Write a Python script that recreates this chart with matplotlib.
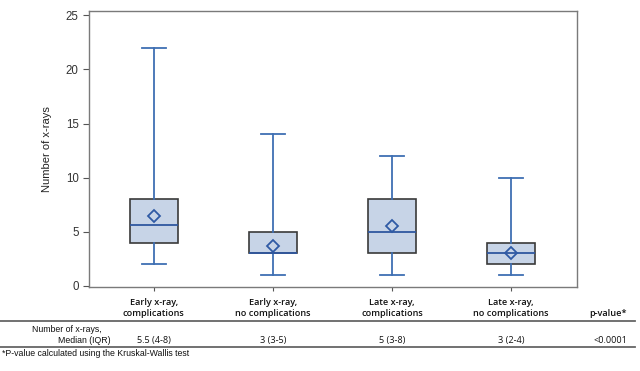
import matplotlib
matplotlib.use("Agg")
import matplotlib.pyplot as plt
import matplotlib.transforms as mtransforms
from matplotlib.lines import Line2D

categories = ["Early x-ray,\ncomplications", "Early x-ray,\nno complications",
              "Late x-ray,\ncomplications", "Late x-ray,\nno complications"]
whislo = [2, 1, 1, 1]
q1 = [4, 3, 3, 2]
med = [5.6, 3, 5, 3]
q3 = [8, 5, 8, 4]
whishi = [22, 14, 12, 10]
means = [6.5, 3.7, 5.5, 3.0]
table_values = ["5.5 (4-8)", "3 (3-5)", "5 (3-8)", "3 (2-4)"]
p_value = "<0.0001"
yticks = [0, 5, 10, 15, 20, 25]

fig = plt.figure(figsize=(6.4, 3.71), dpi=100)
ax = fig.add_axes([89/640, 1-287/371, (577-89)/640, (287-11)/371])

stats = []
for i in range(4):
    stats.append(dict(whislo=whislo[i], q1=q1[i], med=med[i], q3=q3[i],
                      whishi=whishi[i], mean=means[i], fliers=[]))

blue = "#3f6fb3"
ax.bxp(stats, positions=[1, 2, 3, 4], widths=0.4, patch_artist=True,
       showmeans=True, showfliers=False,
       boxprops=dict(facecolor="#c7d4e7", edgecolor="#3a3a3a", linewidth=1.2),
       medianprops=dict(color="#2f57a0", linewidth=1.3),
       whiskerprops=dict(color=blue, linewidth=1.3),
       capprops=dict(color=blue, linewidth=1.3),
       capwidths=0.2,
       meanprops=dict(marker="D", markerfacecolor="none", markeredgecolor="#2f5aa5",
                      markeredgewidth=1.3, markersize=6))

ax.set_xlim(0.455, 4.555)
ax.set_ylim(-0.1, 25.4)
ax.set_yticks(yticks)
ax.set_xticks([1, 2, 3, 4])
ax.set_xticklabels([])
ax.tick_params(axis="both", direction="out", length=4, width=0.8, color="#555555",
               labelsize=8.3, labelcolor="#333333")
ax.tick_params(axis="x", length=3)
for s in ax.spines.values():
    s.set_color("#7a7a7a")
    s.set_linewidth(1.0)
ax.set_ylabel("Number of x-rays", fontsize=8, color="#222222", labelpad=10,
              family="Liberation Sans")
for lab in ax.get_yticklabels():
    lab.set_family("Liberation Sans")

def fy(px):
    return 1 - px / 371

trans = mtransforms.blended_transform_factory(ax.transData, fig.transFigure)
hfont = dict(family="Open Sans", fontsize=6.6, fontweight="semibold", color="#111111")
vfont = dict(family="Open Sans", fontsize=6.6, color="#111111")
for i, cat in enumerate(categories):
    ax.text(i + 1, fy(308), cat, transform=trans, ha="center", va="center",
            linespacing=1.3, **hfont)
    ax.text(i + 1, fy(340.5), table_values[i], transform=trans, ha="center",
            va="center", **vfont)
fig.text(627/640, fy(314), "p-value*", ha="right", va="center", **hfont)
fig.text(627/640, fy(340.5), p_value, ha="right", va="center", **vfont)
fig.text(102/640, fy(329), "Number of x-rays,", ha="right", va="center",
         family="Liberation Sans", fontsize=6.3, color="#111111")
fig.text(111/640, fy(340.5), "Median (IQR)", ha="right", va="center",
         family="Liberation Sans", fontsize=6.3, color="#111111")
fig.text(2/640, fy(354), "*P-value calculated using the Kruskal-Wallis test",
         ha="left", va="center", family="Liberation Sans", fontsize=6.3,
         color="#111111")
for ypx in (321, 346.5):
    fig.add_artist(Line2D([0, 635/640], [fy(ypx), fy(ypx)], color="#666666",
                          linewidth=1.3, transform=fig.transFigure))

fig.savefig("out.png", dpi=100)
